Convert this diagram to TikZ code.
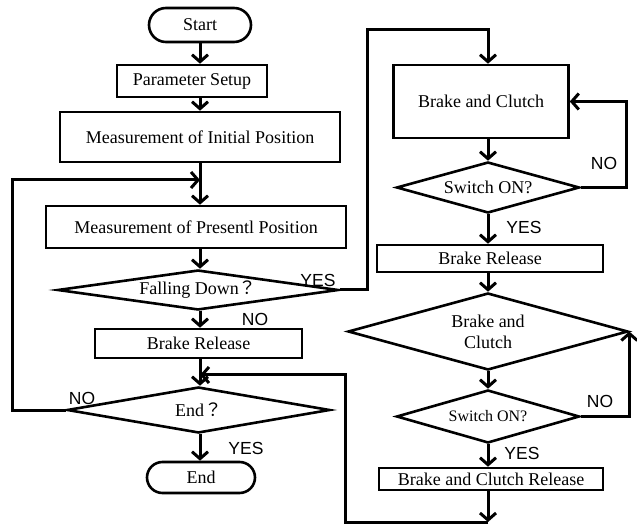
\documentclass[tikz,border=0pt]{standalone}
\usepackage{fontspec}
\setmainfont{Liberation Serif}
\setsansfont{Liberation Sans}
\newfontfamily\cjk{Noto Sans CJK TC}
\usetikzlibrary{positioning, calc, arrows.meta, shapes.geometric, shapes.misc}
\tikzset{
    termnode/.style={rounded rectangle, draw, line width=2.6pt, inner sep=0pt, font=\fontsize{18}{21}\selectfont},
    procnode/.style={rectangle, draw, line width=2.6pt, inner sep=0pt, align=center, font=\fontsize{18}{21}\selectfont},
    decnode/.style={diamond, draw, line width=2.6pt, inner sep=0pt, align=center, font=\fontsize{18}{21}\selectfont},
    flowarrow/.style={-{Straight Barb[length=7pt,width=16pt]}, line width=3pt},
    answer/.style={inner sep=0pt, font=\sffamily\fontsize{17.5}{20}\selectfont},
}
\begin{document}
\begin{tikzpicture}[x=1pt, y=-1pt]
    \useasboundingbox (0,0) rectangle (637,526);

    % --- Main loop (left) ---
    \node[termnode, minimum width=102pt, minimum height=34pt] (start) at (200,25) {Start};
    \node[procnode, minimum width=150pt, minimum height=32pt] (param) at (192,81) {Parameter Setup};
    \node[procnode, minimum width=280pt, minimum height=50pt] (init) at (200,137) {Measurement of Initial Position};
    \node[procnode, minimum width=300pt, minimum height=42pt] (present) at (196,227) {Measurement of Presentl Position};
    \node[decnode, aspect=7, minimum width=281pt, minimum height=40pt] (fall) at (198,290) {Falling Down{\cjk ？}};
    \node[procnode, minimum width=207pt, minimum height=29pt] (brelA) at (198.5,343.5) {Brake Release};
    \node[decnode, aspect=5.7, minimum width=263pt, minimum height=46pt] (endq) at (198.5,410) {End{\cjk ？}};
    \node[termnode, minimum width=108pt, minimum height=31pt] (stop) at (201,477.5) {End};

    % --- Brake sequence (right) ---
    \node[procnode, minimum width=175pt, minimum height=73pt] (bc) at (481,101.5) {Brake and Clutch};
    \node[decnode, aspect=3.6, minimum width=183pt, minimum height=51pt] (swA) at (488,187.5) {Switch ON?};
    \node[procnode, minimum width=226pt, minimum height=27pt] (brelB) at (490,258.5) {Brake Release};
    \node[decnode, aspect=3.64, minimum width=280pt, minimum height=77pt] (bcd) at (488,331.5) {Brake and\\Clutch};
    \node[decnode, aspect=3.45, minimum width=183pt, minimum height=53pt, font=\fontsize{16}{19}\selectfont] (swB) at (488,416.5) {Switch ON?};
    \node[procnode, minimum width=224pt, minimum height=22pt] (bcr) at (491,479) {Brake and Clutch Release};

    % Answers
    \node[answer] (yesFall) at (318,280) {YES};
    \node[answer] (noFall) at (255,319) {NO};
    \node[answer] (noEnd) at (82,398) {NO};
    \node[answer] (yesEnd) at (246,448) {YES};
    \node[answer] (noSwA) at (604,163) {NO};
    \node[answer] (yesSwA) at (524,227) {YES};
    \node[answer] (noSwB) at (600,401) {NO};
    \node[answer] (yesSwB) at (522,453) {YES};

    % Turning points
    \coordinate (loopL) at (12,180);
    \coordinate (loopY) at (367,30);
    \coordinate (loopA) at (626,187.5);
    \coordinate (joinB) at (488,522);
    \coordinate (joinL) at (345,375);

    % Left column
    \draw[flowarrow] (start.south -| 200,0) -- (param.north -| 200,0);
    \draw[flowarrow] (param.south -| 200,0) -- (init.north -| 200,0);
    \draw[flowarrow] (init.south -| 200,0) -- (present.north -| 200,0);
    \draw[flowarrow] (present.south -| 200,0) -- (fall.north -| 200,0);
    \draw[flowarrow] (fall.south -| 200,0) -- (brelA.north -| 200,0);
    \draw[flowarrow] (brelA.south -| 200,0) -- (endq.north -| 200,0);
    \draw[flowarrow] (endq.south -| 200,0) -- (stop.north -| 200,0);
    \draw[flowarrow] (endq.west) -| (loopL) -- (loopL -| 200,0);
    \draw[flowarrow] (fall.east) -| (loopY) -| (bc.north -| swA.north);

    % Right column
    \draw[flowarrow] (bc.south -| swA.north) -- (swA.north);
    \draw[flowarrow] (swA.east) -- (loopA) |- (bc.east);
    \draw[flowarrow] (swA.south) -- (brelB.north -| swA.south);
    \draw[flowarrow] (brelB.south -| bcd.north) -- (bcd.north);
    \draw[flowarrow] (bcd.south) -- (swB.north);
    \draw[flowarrow] (swB.east) -| (bcd.east);
    \draw[flowarrow] (swB.south) -- (bcr.north -| swB.south);
    \draw[flowarrow] (bcr.south -| joinB) -- (joinB);
    \draw[flowarrow] (joinB) -| (joinL) -- (joinL -| 200,0);
\end{tikzpicture}
\end{document}
